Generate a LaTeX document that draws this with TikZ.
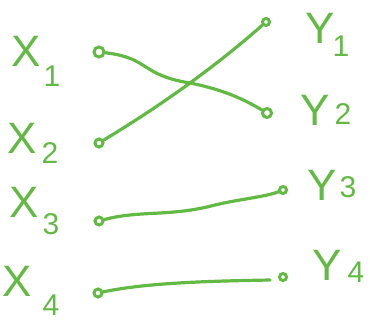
\documentclass[tikz,border=0pt]{standalone}
\usepackage{fontspec}
\setmainfont{Liberation Sans}
\definecolor{pen}{RGB}{98,186,68}
\begin{document}
\begin{tikzpicture}[x=1pt,y=-1pt,
  lbl/.style={text=pen,inner sep=0pt,font=\fontsize{44}{44}\selectfont},
  sub/.style={text=pen,inner sep=0pt,font=\fontsize{30}{30}\selectfont},
  dot/.style={circle,draw=pen,line width=3pt,inner sep=0pt,minimum size=8pt},
  wire/.style={draw=pen,line width=3.2pt,line cap=round,line join=round}]
\useasboundingbox (0,0) rectangle (370,324);
% left labels
\node[lbl] (x1) at (26,51) {X};  \node[sub] (x1i) at (52,76) {1};
\node[lbl] (x2) at (22,138) {X}; \node[sub] (x2i) at (50,153) {2};
\node[lbl] (x3) at (24,202) {X}; \node[sub] (x3i) at (51,224) {3};
\node[lbl] (x4) at (17,281) {X}; \node[sub] (x4i) at (51,305) {4};
% right labels
\node[lbl] (y1) at (320,28) {Y}; \node[sub] (y1i) at (341,46) {1};
\node[lbl] (y2) at (315,110) {Y}; \node[sub] (y2i) at (343,114) {2};
\node[lbl] (y3) at (322,185) {Y}; \node[sub] (y3i) at (348,187) {3};
\node[lbl] (y4) at (327,265) {Y}; \node[sub] (y4i) at (356,272) {4};
% endpoints
\node[dot,minimum size=10pt] (a1) at (99,52) {};
\node[dot] (a2) at (99,143) {};
\node[dot] (a3) at (99,221) {};
\node[dot] (a4) at (98,293) {};
\node[dot,minimum size=7pt] (b1) at (266,22) {};
\node[dot,minimum size=9pt] (b2) at (267,113) {};
\node[dot,minimum size=7pt] (b3) at (283,190) {};
\node[dot,minimum size=7pt] (b4) at (283,277) {};
\coordinate (e4) at (270,280);
% connectors
\draw[wire] (a1) .. controls (150,58) and (140,75) .. (190,83) .. controls (225,90) and (245,100) .. (b2);
\draw[wire] (a2) .. controls (140,118) and (200,80) .. (b1);
\draw[wire] (a3) .. controls (140,210) and (170,217) .. (215,205) .. controls (240,199) and (265,197) .. (b3);
\draw[wire] (a4) .. controls (150,282) and (220,281) .. (e4);
\end{tikzpicture}
\end{document}
